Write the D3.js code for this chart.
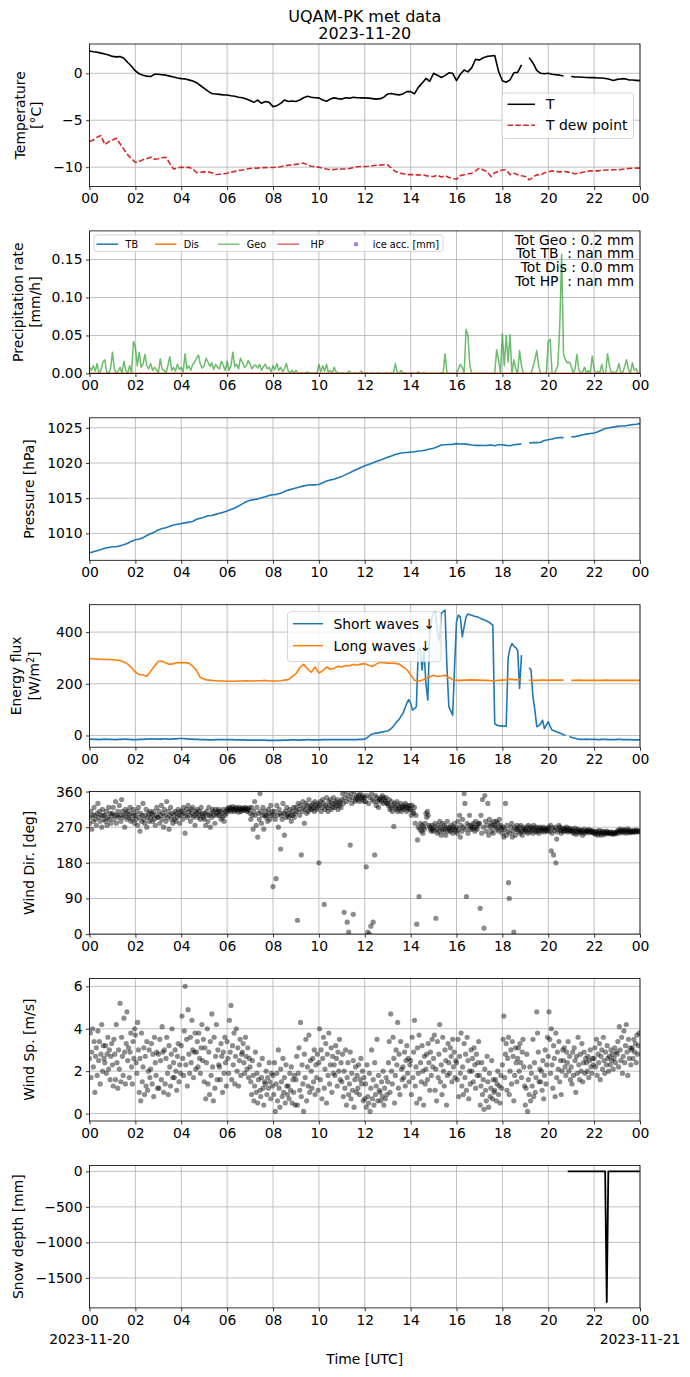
<!DOCTYPE html>
<html>
<head>
<meta charset="utf-8">
<script src="https://cdn.jsdelivr.net/npm/d3@7"></script>
<style>
  body { margin: 0; background: #fff; }
  svg { font-family: "DejaVu Sans", sans-serif; }
</style>
</head>
<body>
<svg id="fig" width="690" height="1377"></svg>
<script>
// ---- data ----
// 10 min values, 00:00 -> 24:00
const tempT = [
  2.38, 2.30, 2.25, 2.15, 2.05, 1.95,
  1.80, 1.75, 1.78, 1.60, 1.15, 0.75,
  0.25, -0.05, -0.2, -0.3, -0.35, -0.1,
  -0.1, -0.15, -0.2, -0.3, -0.4, -0.5,
  -0.57, -0.6, -0.7, -0.82, -1.0, -1.3,
  -1.6, -1.9, -2.15, -2.2, -2.25, -2.3,
  -2.32, -2.4, -2.45, -2.55, -2.6, -2.75,
  -2.9, -3.1, -2.85, -3.2, -3.0, -3.1,
  -3.55, -3.45, -3.2, -2.85, -3.0, -2.95,
  -3.0, -2.85, -2.6, -2.45, -2.55, -2.6,
  -2.62, -2.85, -2.98, -2.75, -2.62, -2.7,
  -2.75, -2.6, -2.65, -2.55, -2.6, -2.62,
  -2.62, -2.65, -2.7, -2.75, -2.7, -2.55,
  -2.2, -2.15, -2.25, -2.3, -2.2, -1.95,
  -1.95, -2.2, -1.5, -1.05, -0.55, -0.85,
  0.0, -0.2, -0.45, -0.25, 0.05, 0.0,
  -0.78, -0.1, 0.35, 0.15, 0.6, 1.5,
  1.4, 1.65, 1.8, 1.85, 1.9, 0.2,
  -0.8, -0.95, -0.7, 0.05, 0.1, 0.9,
  null, 1.67, 1.1, 0.3, 0.0, -0.05,
  0.0, -0.1, -0.15, -0.2, -0.28, null,
  -0.35, -0.38, -0.4, -0.42, -0.45, -0.46,
  -0.46, -0.5, -0.5, -0.55, -0.64, -0.78,
  -0.65, -0.6, -0.57, -0.7, -0.72, -0.75,
  -0.78
];
const tempDew = [
  -7.27, -7.1, -6.8, -6.63, -7.6, -7.3,
  -7.1, -6.91, -7.5, -8.1, -8.69, -9.1,
  -9.5, -9.4, -9.2, -9.1, -8.94, -9.15,
  -9.1, -9.0, -8.94, -9.6, -10.2, -10.1,
  -10.0, -10.05, -10.0, -10.2, -10.57, -10.55,
  -10.5, -10.5, -10.6, -10.78, -10.75, -10.7,
  -10.64, -10.55, -10.45, -10.35, -10.3, -10.2,
  -10.14, -10.1, -10.1, -10.05, -10.05, -10.04,
  -10.04, -10.0, -9.95, -9.86, -9.8, -9.75,
  -9.7, -9.65, -9.57, -9.75, -9.9, -9.95,
  -10.0, -10.1, -10.2, -10.28, -10.25, -10.2,
  -10.2, -10.2, -10.15, -10.05, -9.95, -9.93,
  -9.93, -9.9, -9.85, -9.8, -9.78, -9.75,
  -9.75, -10.1, -10.46, -10.6, -10.7, -10.8,
  -10.8, -10.8, -10.85, -10.8, -10.9, -11.0,
  -11.0, -10.85, -11.06, -10.9, -11.1, -11.2,
  -11.28, -10.9, -10.8, -10.7, -10.64, -10.4,
  -10.1, -10.3, -10.46, -10.99, -10.6, -10.46,
  -10.3, -10.28, -10.8, -10.64, -10.8, -10.92,
  -11.0, -11.35, -11.1, -10.8, -10.85, -10.6,
  -10.5, -10.39, -10.45, -10.5, -10.46, -10.5,
  -10.6, -10.71, -10.65, -10.55, -10.45, -10.4,
  -10.39, -10.4, -10.35, -10.3, -10.3, -10.28,
  -10.28, -10.25, -10.2, -10.15, -10.12, -10.1,
  -10.1
];
// 5 min values
const precipGeo = [
  .008,.004,.010,.003,.013,.000,.004,.015,.018,.002,.000,.006,
  .028,.006,.000,.003,.008,.000,.016,.004,.000,.010,.000,.042,
  .035,.010,.028,.008,.012,.025,.010,.006,.013,.004,.008,.005,
  .000,.019,.006,.004,.000,.010,.022,.004,.008,.003,.012,.005,
  .008,.002,.026,.006,.010,.004,.012,.015,.020,.024,.012,.007,
  .010,.020,.015,.009,.014,.005,.012,.008,.006,.016,.010,.004,
  .016,.004,.010,.028,.009,.012,.006,.020,.015,.008,.010,.017,
  .012,.006,.010,.011,.007,.012,.004,.009,.012,.006,.008,.002,
  .010,.005,.013,.004,.008,.002,.006,.013,.003,.001,.004,.000,
  .004,.001,.000,.001,.000,.001,.002,.000,.001,.000,.001,.000,
  .012,.002,.010,.003,.012,.001,.004,.000,.008,.002,.001,.000,
  .001,.000,.000,.001,.003,.000,.000,.001,.000,.000,.003,.001,
  .000,.001,.000,.000,.001,.000,.000,.001,.000,.000,.000,.001,
  .000,.000,.001,.000,.013,.001,.000,.004,.000,.001,.000,.000,
  .000,.001,.000,.000,.002,.000,.000,.001,.000,.000,.000,.000,
  .000,.000,.000,.000,.001,.000,.026,.000,.000,.000,.000,.000,
  .000,.006,.012,.008,.000,.058,.050,.010,.000,.000,.000,.000,
  .000,.000,.000,.000,.000,.000,.000,.000,.000,.031,.018,.000,
  .052,.010,.050,.015,.051,.000,.018,.006,.000,.030,.010,.000,
  .000,.000,.000,.000,.008,.018,.030,.010,.000,.000,.000,.000,
  .042,.045,.000,.000,.004,.010,.060,.157,.025,.018,.014,.015,
  .010,.000,.006,.025,.005,.000,.002,.008,.000,.004,.000,.023,
  .005,.000,.003,.000,.012,.000,.000,.026,.010,.000,.002,.000,
  .004,.013,.000,.002,.009,.018,.005,.000,.014,.004,.006,.000,
  .000
];
// hourly
const precipDis = [0,0,0,0,0,0,0,0,0,0,0,0,0,0,0,0,0,0,0,0,0,0,0,0,0];
const precipHP = [0,0,0,0,0,0,0,0,0,0,0,0,0,0,0,0,0,0,0,0,0,0,0,0,0];
const precipTotals = ["Tot Geo : 0.2 mm", "Tot TB  : nan mm", "Tot Dis : 0.0 mm", "Tot HP  : nan mm"];

// 10 min values
const pressure = [
  1007.2, 1007.4, 1007.55, 1007.7, 1007.9, 1008.0,
  1008.1, 1008.1, 1008.25, 1008.4, 1008.6, 1008.9,
  1009.1, 1009.2, 1009.4, 1009.7, 1009.95, 1010.2,
  1010.5, 1010.7, 1010.8, 1011.0, 1011.2, 1011.3,
  1011.4, 1011.5, 1011.6, 1011.7, 1012.0, 1012.15,
  1012.3, 1012.5, 1012.55, 1012.7, 1012.85, 1013.0,
  1013.2, 1013.4, 1013.6, 1013.9, 1014.2, 1014.5,
  1014.7, 1014.8, 1014.9, 1015.05, 1015.2, 1015.4,
  1015.5, 1015.55, 1015.7, 1015.95, 1016.15, 1016.3,
  1016.45, 1016.6, 1016.75, 1016.85, 1016.9, 1016.9,
  1016.95, 1017.2, 1017.45, 1017.6, 1017.7, 1017.9,
  1018.1, 1018.35, 1018.6, 1018.85, 1019.1, 1019.35,
  1019.6, 1019.8, 1020.0, 1020.2, 1020.4, 1020.6,
  1020.8, 1021.0, 1021.2, 1021.35, 1021.45, 1021.5,
  1021.55, 1021.6, 1021.7, 1021.75, 1021.85, 1022.0,
  1022.1, 1022.3, 1022.55, 1022.6, 1022.62, 1022.65,
  1022.75, 1022.7, 1022.72, 1022.65, 1022.55, 1022.5,
  1022.5, 1022.48, 1022.5, 1022.55, 1022.45, 1022.6,
  1022.6, 1022.5, 1022.45, 1022.6, 1022.65, 1022.7,
  null, 1022.85, 1022.9, 1022.9, 1022.95, 1023.2,
  1023.3, 1023.4, 1023.55, 1023.6, 1023.6, null,
  1023.7, 1023.75, 1023.85, 1024.0, 1024.1, 1024.2,
  1024.25, 1024.45, 1024.7, 1024.9, 1025.0, 1025.1,
  1025.2, 1025.25, 1025.25, 1025.35, 1025.45, 1025.5,
  1025.6
];
// 10 min values
const longWaves = [
  297, 297, 296, 295, 294, 294,
  293, 292, 290, 284, 276, 262,
  245, 236, 234, 229, 249, 268,
  287, 287, 280, 275, 278, 282,
  282, 282, 280, 268, 252, 224,
  218, 214, 213, 212, 211, 211,
  210, 210, 210, 211, 211, 212,
  211, 211, 212, 212, 213, 211,
  211, 211, 212, 214, 216, 228,
  239, 262, 275, 258, 245, 265,
  242, 250, 265, 256, 260, 268,
  265, 271, 270, 275, 272, 276,
  278, 272, 267, 276, 283, 282,
  280, 280, 279, 276, 266, 255,
  235, 214, 210, 214, 220, 227,
  233, 228, 230, 233, 224, 216,
  213, 213, 214, 214, 215, 214,
  214, 213, 213, 212, 212, 213,
  214, 215, 218, 216, 215, 216,
  null, 214, 213, 213, 214, 214,
  213, 214, 214, 214, 214, null,
  213, 213, 214, 213, 213, 213,
  213, 213, 213, 214, 213, 213,
  213, 213, 213, 213, 213, 213,
  213
];
// 5 min values
const shortWaves = [
  -14,-14,-15,-15,-15,-16,-15,-15,-14,-15,-15,-15,
  -15,-16,-16,-15,-15,-15,-14,-14,-15,-15,-16,-16,
  -16,-16,-15,-15,-15,-14,-14,-14,-13,-13,-14,-14,
  -14,-14,-14,-13,-13,-14,-14,-14,-13,-13,-13,-12,
  -12,-12,-13,-13,-14,-14,-14,-15,-15,-15,-16,-16,
  -16,-16,-17,-17,-17,-17,-16,-16,-16,-16,-16,-16,
  -16,-16,-16,-16,-17,-17,-17,-17,-17,-17,-18,-18,
  -18,-18,-18,-18,-18,-18,-18,-18,-18,-19,-19,-19,
  -19,-19,-19,-19,-19,-18,-18,-18,-18,-17,-17,-17,
  -17,-18,-18,-17,-17,-17,-16,-16,-17,-17,-17,-17,
  -17,-17,-16,-16,-16,-16,-16,-16,-16,-16,-16,-16,
  -16,-16,-16,-16,-16,-16,-16,-16,-16,-15,-15,-15,
  -14,-10,-4,2,6,8,9,10,12,13,15,16,
  17,22,28,35,46,55,62,75,85,105,125,139,
  125,98,104,111,330,337,253,330,200,137,400,453,
  472,479,395,369,472,479,485,266,111,95,79,266,
  440,466,459,382,420,459,470,467,465,462,460,459,
  455,452,449,446,442,438,433,427,46,40,38,37,
  36,36,36,300,337,356,345,340,330,182,311,null,
  null,null,262,253,150,98,34,38,45,59,27,40,
  53,35,21,18,15,12,10,7,3,0,null,-5,
  -7,-9,-11,-13,-14,-15,-15,-15,-14,-15,-15,-15,
  -15,-15,-16,-16,-15,-15,-15,-16,-16,-16,-16,-16,
  -15,-15,-15,-16,-16,-16,-16,-16,-17,-17,-17,-17,
  -17
];
// 2 min samples, 30 per hour
const windDir = [
  280,295,310,265,300,285,320,300,290,275,305,330,295,310,285,300,270,315,300,290, 300,285,310,275,295,320,290,305,280,300,
  305,320,290,300,335,280,300,310,295,325,300,285,340,310,295,300,270,315,305,290, 310,295,300,320,285,305,290,315,300,280,
  300,290,310,275,320,295,260,305,285,300,330,290,280,300,315,270,295,305,285,310, 295,305,285,300,310,290,275,300,320,295,
  295,310,280,300,325,290,305,270,315,300,285,335,295,310,265,300,320,290,305,280, 300,290,310,285,305,295,315,300,280,310,
  300,310,290,320,305,255,300,315,295,325,310,300,285,315,305,320,295,300,275,310, 305,315,295,300,310,290,320,305,300,295,
  290,305,275,310,300,285,320,300,270,305,295,315,310,300,280,315,305,300,310,315, 300,310,290,305,295,315,285,300,310,305,
  315,318,312,320,315,310,318,322,315,310,316,320,312,318,315,308,320,315,310,318, 316,312,318,314,320,315,310,317,313,319,
  305,290,320,300,265,310,335,300,275,320,245,305,290,355,310,280,300,320,265,300, 310,295,300,285,315,305,290,325,300,310,
  120,300,310,290,140,325,300,270,315,305,215,300,290,330,305,250,310,295,320,300, 305,295,315,300,285,310,300,320,295,305,
  320,310,35,330,315,300,325,200,310,335,320,280,315,330,305,325,310,340,320,315, 325,315,330,320,310,335,325,315,320,330,
  180,325,335,310,320,340,330,75,315,325,345,320,310,335,325,340,315,330,320,345, 330,320,335,325,340,315,330,325,335,320,
  340,355,330,55,345,360,335,30,350,5,340,225,355,330,345,50,360,335,340,350, 345,340,350,335,355,345,340,350,345,335,
  345,335,170,350,5,330,0,345,20,355,340,30,335,200,350,325,345,335,320,340, 340,345,335,350,330,345,340,335,345,330,
  330,325,340,315,320,335,310,325,272,330,320,315,335,310,325,320,315,330,310,320, 320,325,315,330,320,310,325,320,315,325,
  315,300,325,310,305,320,280,300,25,238,270,95,265,280,260,275,255,270,265,280, 305,295,310,300,275,270,265,260,275,265,
  260,270,280,40,265,255,275,260,285,270,250,265,280,260,275,265,250,270,285,260, 265,270,260,275,265,255,270,280,265,260,
  270,255,285,265,300,245,275,260,290,270,355,330,265,95,280,255,275,300,265,270, 275,265,280,270,260,285,270,265,275,280,
  280,65,300,255,340,270,15,350,285,260,275,330,250,290,270,280,260,275,255,285, 275,270,285,265,280,260,290,270,275,265,
  255,270,245,265,330,250,275,260,130,90,255,270,280,245,260,5,270,250,265,275, 265,260,270,255,275,260,250,265,270,260,
  265,260,270,255,275,265,258,270,262,268,255,275,265,260,270,258,268,262,255,270, 262,268,260,265,270,258,265,262,268,260,
  265,270,260,275,210,255,268,200,262,270,180,240,258,265,275,270,262,255,268,260, 265,260,268,262,270,258,265,260,268,262,
  262,258,265,255,260,268,252,262,258,265,255,260,263,257,262,250,258,265,255,260, 260,262,258,264,256,260,262,258,260,256,
  255,258,252,260,255,250,258,262,254,256,250,260,255,258,252,256,260,254,258,255, 256,254,258,255,252,257,254,256,253,257,
  258,262,255,260,265,258,262,256,260,264,258,262,255,260,266,258,262,256,260,258, 260,258,262,257,260,263,259,261,258,260
];
const windSpeed = [
  2.6,3.8,1.7,2.9,4.0,2.2,3.4,1.0,2.7,3.1,1.8,3.9,2.5,3.4,1.4,2.8,4.2,2.0,3.2,2.6, 2.4,3.2,1.9,2.8,3.6,2.1,3.0,1.6,2.7,3.3,
  2.3,1.3,3.5,2.8,1.6,4.2,2.4,1.2,3.0,2.1,5.2,1.5,3.6,2.7,1.8,4.5,2.9,1.4,3.3,4.8, 2.5,3.1,1.7,2.9,3.8,2.2,1.4,3.4,2.6,4.0,
  3.7,2.4,1.9,4.3,3.0,1.0,2.6,0.6,3.8,1.5,2.2,3.1,0.9,2.7,1.3,3.4,1.1,2.0,3.0,1.7, 2.1,3.3,1.4,2.8,0.8,3.6,2.4,1.8,2.9,1.2,
  2.8,1.2,3.5,2.5,1.6,4.1,2.9,1.0,3.0,1.4,2.6,3.6,1.9,0.9,3.2,2.2,1.3,2.8,4.0,1.7, 2.4,1.7,3.0,2.0,1.1,2.7,3.3,1.5,2.3,1.9,
  3.2,4.6,2.6,1.8,3.9,6.0,2.3,3.5,1.3,4.9,2.8,1.9,3.6,2.4,4.4,3.0,1.7,2.9,3.8,2.1, 2.9,3.4,2.2,3.8,2.6,1.9,3.1,4.2,2.5,3.5,
  1.5,3.1,0.7,2.4,4.0,1.4,2.9,0.9,3.4,1.8,4.7,2.2,0.6,3.6,1.2,2.7,4.2,1.6,3.0,2.3, 2.2,1.6,3.3,2.7,1.0,2.9,1.9,3.6,2.4,1.3,
  3.4,2.6,1.9,4.4,2.9,5.1,1.6,3.2,2.3,3.8,1.4,2.7,4.0,2.0,3.1,1.3,2.5,3.5,1.8,2.8, 2.9,3.3,2.4,1.9,3.6,2.7,2.1,3.1,1.7,2.6,
  2.2,1.5,0.9,2.5,1.8,0.6,1.3,2.9,1.0,1.9,0.5,1.6,2.3,1.1,0.8,1.7,2.6,1.2,0.4,1.5, 1.4,2.0,0.9,1.7,1.2,2.4,1.5,0.7,1.9,1.3,
  1.8,0.9,2.4,0.1,1.4,1.9,0.6,3.0,1.2,0.3,2.1,1.5,0.8,2.6,1.0,1.7,0.5,2.3,1.3,0.9, 1.3,0.7,1.9,1.1,2.2,0.5,1.6,1.0,1.8,0.4,
  1.6,2.7,0.4,1.9,3.1,1.1,4.3,0.8,2.3,1.4,0.1,2.8,1.7,3.5,0.6,2.2,1.3,3.7,1.0,2.5, 2.0,1.2,2.6,1.5,3.0,0.9,2.3,1.7,2.8,1.1,
  2.4,4.0,1.6,3.0,0.7,2.6,3.6,1.2,2.1,3.3,0.5,2.8,1.8,3.8,1.4,2.3,3.1,1.0,2.7,1.9, 2.3,1.8,3.2,2.6,1.3,2.9,2.0,3.5,1.6,2.4,
  1.5,2.8,0.8,2.0,1.2,3.0,0.4,1.7,2.4,0.9,1.4,2.9,0.7,1.9,1.1,2.5,0.3,1.6,2.2,1.0, 1.8,1.2,2.3,0.9,1.6,2.6,1.4,2.0,0.6,1.7,
  0.7,1.4,0.3,2.3,0.8,0.5,1.9,0.1,1.2,3.0,0.7,1.6,0.4,2.4,0.9,1.3,3.5,0.6,1.8,1.1, 1.0,0.6,1.5,0.8,2.0,0.4,1.2,0.7,1.7,0.9,
  1.5,2.4,3.4,1.0,4.7,2.0,1.4,3.6,2.6,0.5,1.8,3.0,2.3,4.3,1.2,2.8,0.9,3.4,2.1,1.6, 2.2,1.7,2.9,1.3,2.5,3.2,1.9,2.6,1.5,2.3,
  2.5,0.9,3.6,1.7,2.9,4.4,1.3,2.2,0.5,3.1,1.9,3.7,0.7,2.4,1.5,3.2,2.0,0.4,2.7,1.4, 2.1,2.8,1.6,3.3,2.4,1.1,2.9,1.8,3.5,2.2,
  2.6,3.7,1.1,2.1,0.6,3.4,1.7,2.8,4.2,1.5,2.3,0.9,3.6,2.0,1.3,3.0,2.5,0.4,1.8,3.3, 2.4,1.9,3.1,2.7,1.5,3.5,2.2,2.9,1.7,2.5,
  2.4,1.6,3.5,0.8,2.7,1.9,3.8,1.3,2.2,0.9,3.3,1.7,2.8,1.1,3.6,2.5,0.7,2.0,1.4,3.0, 2.0,2.6,1.5,3.1,2.3,1.2,2.8,1.8,2.4,3.4,
  1.8,0.4,1.3,2.4,0.9,1.6,0.2,2.1,1.1,0.6,2.7,1.5,0.3,1.9,0.8,1.2,2.5,0.7,1.6,1.0, 1.1,1.6,0.6,1.4,2.0,0.9,1.3,0.5,1.8,1.2,
  2.3,3.5,4.6,1.7,2.8,3.3,1.1,2.6,3.6,0.9,2.0,3.0,1.4,3.4,2.7,0.6,1.8,3.1,2.4,1.5, 2.6,3.1,2.0,3.3,2.4,1.7,2.9,3.5,2.2,1.3,
  0.4,1.2,2.8,0.1,1.6,0.9,2.2,0.6,1.9,1.3,3.5,0.8,2.4,1.0,1.7,4.8,3.8,2.9,1.5,2.1, 1.5,2.0,1.1,2.5,0.7,1.8,3.0,1.4,2.3,3.6,
  2.7,4.8,3.5,1.9,4.0,2.3,1.2,3.2,2.6,0.8,3.8,1.7,2.9,2.1,3.4,1.5,2.5,0.9,2.0,3.0, 2.5,3.1,2.2,1.8,2.9,2.4,3.4,2.0,2.7,1.6,
  2.2,1.4,2.9,1.8,3.1,2.5,1.0,2.7,1.9,3.6,2.3,1.6,2.8,2.0,3.3,1.5,2.4,2.9,1.9,2.6, 2.4,2.0,2.7,1.7,2.5,3.0,2.2,1.9,2.6,2.3,
  2.6,3.1,2.2,3.5,1.8,2.8,2.4,3.3,1.6,2.7,3.0,2.1,3.6,2.5,1.9,2.9,2.3,3.2,2.6,2.0, 2.7,2.3,3.0,2.5,2.8,2.1,2.6,3.1,2.4,2.9,
  2.8,3.4,2.2,4.1,3.0,2.5,3.6,1.9,2.7,3.9,2.4,3.2,4.2,2.9,1.8,3.5,2.6,3.1,2.3,3.0, 3.1,2.6,3.5,2.9,3.3,2.4,3.7,2.8,3.2,3.8
];
// snow depth only reports from ~20:50
const snowHours = [20.85, 22.48, 22.55, 22.62, 24.0];
const snowDepth = [0, 0, -1840, 0, 0];

const tempTicks = [-10, -5, 0];
const precipTicks = [0, 0.05, 0.10, 0.15];
const pressureTicks = [1010, 1015, 1020, 1025];
const fluxTicks = [0, 200, 400];
const dirTicks = [0, 90, 180, 270, 360];
const speedTicks = [0, 2, 4, 6];
const snowTicks = [-1500, -1000, -500, 0];

// ---- layout ----
const day0 = new Date(Date.UTC(2023, 10, 20));
const day1 = new Date(Date.UTC(2023, 10, 21));
const plotLeft = 89.5, plotRight = 640, panelH = 142.5, firstTop = 44, panelStep = 186.9;
const FS = 13.9;

const svg = d3.select("#fig");
const x = d3.scaleUtc().domain([day0, day1]).range([plotLeft, plotRight]);

// values spread evenly over the day
function overDay(values, inclusive) {
    let n = inclusive ? values.length - 1 : values.length;
    return values.map((v, i) => ({t: new Date(day0.getTime() + i * 86400000 / n), v: v}));
}

function makePanel(idx, yDomain, yTicks, yFormat) {
    let top = firstTop + idx * panelStep;
    let g = svg.append("g").attr("transform", `translate(0,${top})`);
    let y = d3.scaleLinear().domain(yDomain).range([panelH, 0]);

    g.append("clipPath").attr("id", "clip" + idx).append("rect")
        .attr("x", plotLeft).attr("y", 0)
        .attr("width", plotRight - plotLeft).attr("height", panelH);

    //grid
    let grid = g.append("g").attr("stroke", "#b0b0b0").attr("stroke-width", 0.8);
    grid.selectAll(".gx").data(x.ticks(d3.utcHour.every(2))).join("line")
        .attr("class", "gx")
        .attr("x1", d => x(d)).attr("x2", d => x(d))
        .attr("y1", 0).attr("y2", panelH);
    grid.selectAll(".gy").data(yTicks).join("line")
        .attr("class", "gy")
        .attr("x1", plotLeft).attr("x2", plotRight)
        .attr("y1", d => y(d)).attr("y2", d => y(d));

    let body = g.append("g").attr("clip-path", `url(#clip${idx})`);
    let over = g.append("g");

    //axes
    let ay = over.append("g").attr("transform", `translate(${plotLeft},0)`)
        .call(d3.axisLeft(y).tickValues(yTicks).tickFormat(yFormat).tickSize(3.5).tickPadding(3.5));
    let ax = over.append("g").attr("transform", `translate(0,${panelH})`)
        .call(d3.axisBottom(x).ticks(d3.utcHour.every(2)).tickFormat(d3.utcFormat("%H"))
            .tickSize(3.5).tickPadding(3.5));
    for (let a of [ay, ax]){
        a.select(".domain").remove();
        a.attr("font-size", FS).attr("font-family", null);
        a.selectAll("line").attr("stroke-width", 0.8);
    }
    over.append("rect")
        .attr("x", plotLeft).attr("y", 0)
        .attr("width", plotRight - plotLeft).attr("height", panelH)
        .attr("fill", "none").attr("stroke", "black").attr("stroke-width", 0.8);

    return {g: g, y: y, body: body, over: over, top: top};
}

function yLabel(p, lines, xs){
    lines.forEach((txt, i) => {
        let t = p.over.append("text")
            .attr("transform", `translate(${xs[i]},${panelH / 2}) rotate(-90)`)
            .attr("text-anchor", "middle")
            .attr("font-size", FS);
        if (Array.isArray(txt)){
            t.append("tspan").text(txt[0]);
            t.append("tspan").attr("font-size", FS * 0.7).attr("dy", -5).text(txt[1]);
            t.append("tspan").attr("dy", 5).text(txt[2]);
        } else {
            t.text(txt);
        }
    });
}

function drawLine(p, data, color, width, dash){
    let line = d3.line()
        .defined(d => d.v !== null)
        .x(d => x(d.t))
        .y(d => p.y(d.v));
    return p.body.append("path")
        .datum(data)
        .attr("d", line)
        .attr("fill", "none")
        .attr("stroke", color)
        .attr("stroke-width", width)
        .attr("stroke-dasharray", dash || null)
        .attr("stroke-linejoin", "round");
}

function drawScatter(p, data){
    p.body.selectAll("circle").data(data).join("circle")
        .attr("cx", d => x(d.t))
        .attr("cy", d => p.y(d.v))
        .attr("r", 2.6)
        .attr("fill", "black")
        .attr("fill-opacity", 0.45);
}

function legendBox(p, bx, by, bw, bh){
    p.over.append("rect")
        .attr("x", bx).attr("y", by).attr("width", bw).attr("height", bh)
        .attr("rx", 3)
        .attr("fill", "white").attr("fill-opacity", 0.8)
        .attr("stroke", "#cccccc").attr("stroke-width", 0.8);
}

function legendLine(p, x1, x2, ly, color, dash, label, tx, fs){
    p.over.append("line")
        .attr("x1", x1).attr("x2", x2).attr("y1", ly).attr("y2", ly)
        .attr("stroke", color).attr("stroke-width", 1.5)
        .attr("stroke-dasharray", dash || null);
    p.over.append("text")
        .attr("x", tx).attr("y", ly).attr("dy", "0.35em")
        .attr("font-size", fs).text(label);
}

// ---- title ----
svg.append("text").attr("x", (plotLeft + plotRight) / 2).attr("y", 22)
    .attr("text-anchor", "middle").attr("font-size", 16).text("UQAM-PK met data");
svg.append("text").attr("x", (plotLeft + plotRight) / 2).attr("y", 39)
    .attr("text-anchor", "middle").attr("font-size", 16).text("2023-11-20");

// ---- temperature ----
let pT = makePanel(0, [-12.06, 3.12], tempTicks, d3.format("d"));
drawLine(pT, overDay(tempT, true), "black", 1.6);
drawLine(pT, overDay(tempDew, true), "#d62728", 1.6, "5.5,2.4");
yLabel(pT, ["Temperature", "[°C]"], [24.5, 41]);
legendBox(pT, 502, 49, 131.5, 45.5);
legendLine(pT, 507.5, 535, 60.3, "black", null, "T", 546, FS);
legendLine(pT, 507.5, 535, 81.3, "#d62728", "5.5,2.4", "T dew point", 546, FS);

// ---- precipitation ----
let pP = makePanel(1, [0, 0.1877], precipTicks, d3.format(".2f"));
drawLine(pP, overDay(precipGeo, true), "#2ca02c", 1.5).attr("stroke-opacity", 0.7);
drawLine(pP, overDay(precipDis, true), "#ff7f0e", 1.5);
drawLine(pP, overDay(precipHP, true), "#d62728", 1.5);
yLabel(pP, ["Precipitation rate", "[mm/h]"], [22.5, 39.5]);
legendBox(pP, 94, 4, 349, 16.7);
legendLine(pP, 96.5, 118, 13.3, "#1f77b4", null, "TB", 125.5, 9.7);
legendLine(pP, 155, 176.5, 13.3, "#ff7f0e", null, "Dis", 183.7, 9.7);
legendLine(pP, 218, 239.5, 13.3, "#7cc47c", null, "Geo", 246.7, 9.7);
legendLine(pP, 277.5, 299, 13.3, "#e46869", null, "HP", 310.6, 9.7);
pP.over.append("circle").attr("cx", 356).attr("cy", 13.3).attr("r", 2.2)
    .attr("fill", "#9467bd").attr("fill-opacity", 0.8);
pP.over.append("text").attr("x", 372.7).attr("y", 13.3).attr("dy", "0.35em")
    .attr("font-size", 9.7).text("ice acc. [mm]");
pP.over.selectAll(".tot").data(precipTotals).join("text")
    .attr("class", "tot")
    .attr("x", 634).attr("y", (d, i) => 13.7 + i * 13.9)
    .attr("text-anchor", "end")
    .attr("font-size", FS)
    .style("white-space", "pre")
    .text(d => d);

// ---- pressure ----
let pPr = makePanel(2, [1006.18, 1026.42], pressureTicks, d3.format("d"));
drawLine(pPr, overDay(pressure, true), "#1f77b4", 1.6);
yLabel(pPr, ["Pressure [hPa]"], [33.5]);

// ---- energy flux ----
let pE = makePanel(3, [-45.4, 506], fluxTicks, d3.format("d"));
drawLine(pE, overDay(shortWaves, true), "#1f77b4", 1.6);
drawLine(pE, overDay(longWaves, true), "#ff7f0e", 1.6);
yLabel(pE, ["Energy flux", ["[W/m", "2", "]"]], [21, 39]);
legendBox(pE, 287.5, 7, 153.5, 50);
legendLine(pE, 293, 323, 19, "#1f77b4", null, "Short waves \u2193", 333.5, FS);
legendLine(pE, 293, 323, 41, "#ff7f0e", null, "Long waves \u2193", 333.5, FS);

// ---- wind direction ----
let pD = makePanel(4, [0, 360], dirTicks, d3.format("d"));
drawScatter(pD, overDay(windDir, false));
yLabel(pD, ["Wind Dir. [deg]"], [34]);

// ---- wind speed ----
let pS = makePanel(5, [-0.35, 6.37], speedTicks, d3.format("d"));
drawScatter(pS, overDay(windSpeed, false));
yLabel(pS, ["Wind Sp. [m/s]"], [34]);

// ---- snow depth ----
let pSn = makePanel(6, [-1922, 84], snowTicks, d3.format("d"));
let snowData = snowHours.map((h, i) => ({t: new Date(day0.getTime() + h * 3600000), v: snowDepth[i]}));
drawLine(pSn, snowData, "black", 1.8);
yLabel(pSn, ["Snow depth [mm]"], [22.5]);
pSn.over.append("text").attr("x", x(day0)).attr("y", panelH + 36)
    .attr("text-anchor", "middle").attr("font-size", FS).text("2023-11-20");
pSn.over.append("text").attr("x", x(day1)).attr("y", panelH + 36)
    .attr("text-anchor", "middle").attr("font-size", FS).text("2023-11-21");
pSn.over.append("text").attr("x", (plotLeft + plotRight) / 2).attr("y", panelH + 56)
    .attr("text-anchor", "middle").attr("font-size", FS).text("Time [UTC]");
</script>
